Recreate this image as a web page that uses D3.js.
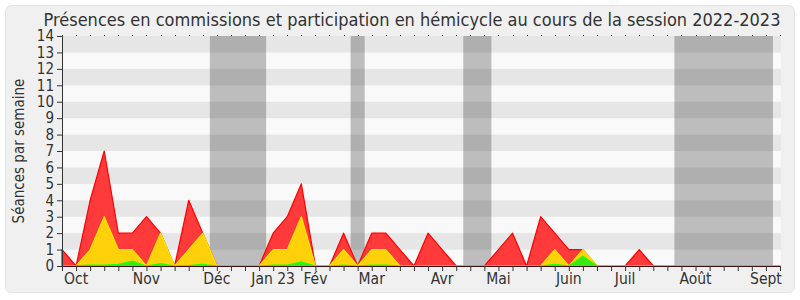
<!DOCTYPE html>
<html>
<head>
<meta charset="utf-8">
<script src="https://cdn.jsdelivr.net/npm/d3@7"></script>
<style>
  body { margin: 0; background: #fff; }
  svg text { font-family: "DejaVu Sans Condensed", "DejaVu Sans", sans-serif; fill: #333; }
</style>
</head>
<body>
<div id="chart"></div>
<script>
// Weekly values, session 2022-2023 (52 weeks)
const presences = [1,0,4,7,2,2,3,2,0,4, 2,0,0,0,0,2,3,5,0,0, 2,0,2,2,1,0,2,1,0,0, 0,1,2,0,3,2,1,1,0,0, 0,1,0,0,0,0,0,0,0,0, 0,0];
const participations = [0,0,1,3,1,1,0,2,0,1, 2,0,0,0,0,1,1,3,0,0, 1,0,1,1,0,0,0,0,0,0, 0,0,0,0,0,1,0,1,0,0, 0,0,0,0,0,0,0,0,0,0, 0,0];
const interventions = [0,0.03,0.05,0.05,0.1,0.3,0,0.15,0,0.03, 0.1,0,0,0,0,0.05,0.05,0.25,0,0, 0.05,0,0.05,0.05,0,0,0,0,0,0, 0,0,0,0,0,0.1,0,0.6,0,0, 0,0,0,0,0,0,0,0,0,0, 0,0];

// month labels, placed on week index
const monthLabels = ["Oct", "Nov", "Déc", "Jan 23", "Fév", "Mar", "Avr", "Mai", "Juin", "Juil", "Août", "Sept"];
const monthWeeks = [1, 6, 11, 15, 18, 22, 27, 31, 36, 40, 45, 50];

// holidays (week index ranges)
const vacStart = [10.5, 20.5, 28.5, 43.5];
const vacEnd = [14.5, 21.5, 30.5, 50.5];

const yTicks = d3.range(0, 15);

const width = 800, height = 300;
const margin = { left: 62, right: 20, top: 36, bottom: 34 };

const svg = d3.select('#chart').append('svg')
    .attr('width', width)
    .attr('height', height);

// panel
svg.append('rect')
    .attr('x', 5.5).attr('y', 5.5)
    .attr('width', 789).attr('height', 287)
    .attr('rx', 6)
    .attr('fill', '#f0f0f0')
    .attr('stroke', '#e2e2e2');

const x = d3.scaleLinear()
    .domain([0, presences.length - 1])
    .range([margin.left, width - margin.right]);
const y = d3.scaleLinear()
    .domain([0, 14])
    .range([height - margin.bottom, margin.top]);

// stripes
svg.append('g').selectAll('rect')
    .data(d3.range(0, 14))
    .enter().append('rect')
    .attr('x', x(0))
    .attr('width', x.range()[1] - x(0) + 1)
    .attr('y', d => y(d + 1))
    .attr('height', d => y(d) - y(d + 1))
    .attr('fill', d => d % 2 ? '#e6e6e6' : '#f9f9f9');

// holidays
svg.append('g').selectAll('rect')
    .data(vacStart)
    .enter().append('rect')
    .attr('x', d => x(d))
    .attr('width', (d, i) => x(vacEnd[i]) - x(d))
    .attr('y', y(14))
    .attr('height', y(0) - y(14))
    .attr('fill', 'rgba(0,0,0,0.24)');

function drawArea(values, fill, stroke) {
    const area = d3.area()
        .x((d, i) => x(i))
        .y0(y(0))
        .y1(d => y(d));
    svg.append('path')
        .datum(values)
        .attr('d', area)
        .attr('fill', fill)
        .attr('stroke', stroke)
        .attr('stroke-width', 1.2)
        .attr('stroke-linejoin', 'round');
}

drawArea(presences, '#ff3a3a', '#ff0000');
drawArea(participations, '#ffd10a', '#ffe600');
drawArea(interventions, '#3ae81a', '#22ff00');

// y axis
const yAxis = svg.append('g')
    .attr('transform', `translate(${x(0)},0)`)
    .call(d3.axisLeft(y).tickValues(yTicks).tickFormat(d3.format('d')).tickSize(5).tickPadding(3));
yAxis.selectAll('text').style('font-size', '15px');
yAxis.selectAll('line, path').attr('stroke', '#333');

// x axis: weekly ticks
const xAxis = svg.append('g')
    .attr('transform', `translate(0,${y(0)})`)
    .call(d3.axisBottom(x).tickValues(d3.range(0, presences.length)).tickFormat('').tickSize(5).tickSizeOuter(0));
xAxis.selectAll('line').attr('stroke', '#333');
xAxis.select('path').attr('stroke', '#3a1010');

svg.append('g').selectAll('text')
    .data(monthLabels)
    .enter().append('text')
    .attr('x', (d, i) => x(monthWeeks[i]))
    .attr('y', y(0) + 17.5)
    .attr('text-anchor', 'middle')
    .style('font-size', '15.5px')
    .text(d => d);

// dotted top line
svg.append('g').selectAll('rect')
    .data(d3.range(0, presences.length))
    .enter().append('rect')
    .attr('x', d => Math.round(x(d)))
    .attr('y', y(14) - 1)
    .attr('width', 1).attr('height', 1)
    .attr('fill', '#333');

// title
svg.append('text')
    .attr('x', 412)
    .attr('y', 26)
    .attr('text-anchor', 'middle')
    .style('font-size', '18px')
    .text('Présences en commissions et participation en hémicycle au cours de la session 2022-2023');

// y label
svg.append('text')
    .attr('transform', `translate(24,${(y(0) + y(14)) / 2}) rotate(-90)`)
    .attr('text-anchor', 'middle')
    .style('font-size', '15px')
    .text('Séances par semaine');
</script>
</body>
</html>
